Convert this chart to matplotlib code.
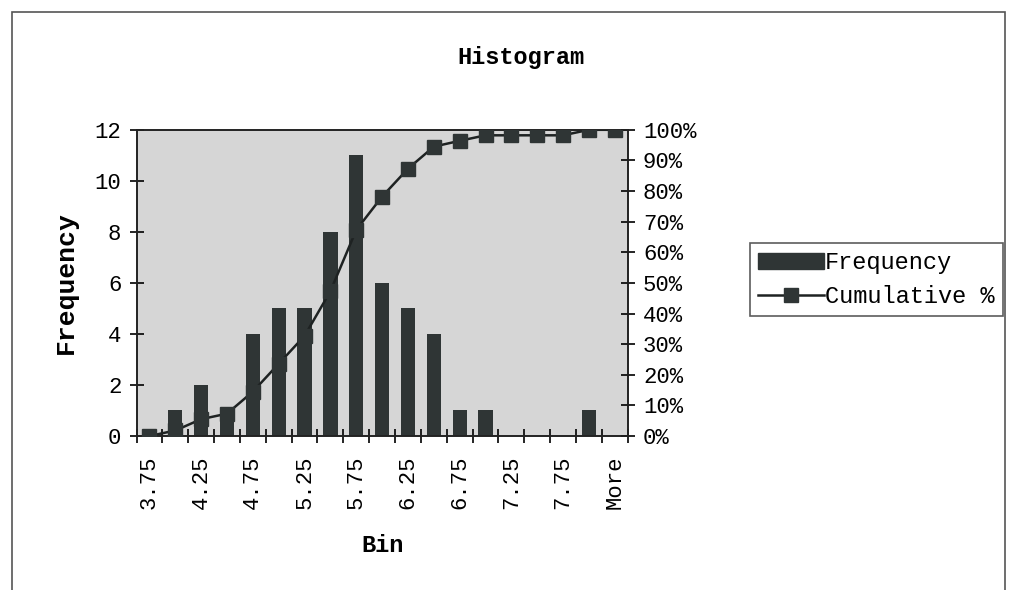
import matplotlib.pyplot as plt
from matplotlib.patches import Rectangle
from matplotlib.lines import Line2D

bins = ["3.75", "4", "4.25", "4.5", "4.75", "5", "5.25", "5.5", "5.75", "6",
        "6.25", "6.5", "6.75", "7", "7.25", "7.5", "7.75", "8", "More"]
frequency = [0, 1, 2, 1, 4, 5, 5, 8, 11, 6, 5, 4, 1, 1, 0, 0, 0, 1, 0]
cumulative = [0, 1.8, 5.5, 7.3, 14.5, 23.6, 32.7, 47.3, 67.3, 78.2, 87.3,
              94.5, 96.4, 98.2, 98.2, 98.2, 98.2, 100, 100]

font = "Liberation Mono"
dark = "#2f3535"

fig = plt.figure(figsize=(10.19, 5.90), dpi=100)
fig.patches.append(Rectangle((12 / 1019, -0.01), 993 / 1019, 1 - 12 / 590 + 0.01,
                             transform=fig.transFigure, fill=False,
                             edgecolor="#555555", linewidth=1.2))

ax = fig.add_axes([0.134, 0.261, 0.482, 0.519])
ax.set_facecolor("#d6d6d6")
x = range(len(bins))
ax.bar(x, frequency, width=0.55, color=dark, zorder=2)
ax.set_xlim(-0.5, len(bins) - 0.5)
ax.set_ylim(0, 12)
ax.set_yticks(range(0, 13, 2))
ax.set_xticks([i - 0.5 for i in range(len(bins) + 1)])
ax.set_xticklabels([])
ax.set_xticks(list(x)[::2], minor=True)
ax.set_xticklabels(bins[::2], minor=True, rotation=90, fontfamily=font, fontsize=16)
ax.tick_params(axis="x", which="major", direction="inout", length=10, width=1.2)
ax.tick_params(axis="x", which="minor", length=0, pad=14)
ax.tick_params(axis="y", direction="inout", length=10, width=1.2, pad=6)
for lab in ax.get_yticklabels():
    lab.set_fontfamily(font)
    lab.set_fontsize(16)
for s in ax.spines.values():
    s.set_linewidth(1.2)
    s.set_color("#222222")
ax.set_xlabel("Bin", fontfamily=font, fontsize=17, fontweight="bold", labelpad=18)
ax.set_ylabel("Frequency", fontfamily=font, fontsize=19, fontweight="bold", labelpad=12)

ax2 = ax.twinx()
ax2.plot(x, cumulative, color="#1e2222", linewidth=1.8, marker="s",
         markersize=10, markerfacecolor=dark, markeredgecolor=dark, zorder=3)
ax2.set_ylim(0, 100)
ax2.set_yticks(range(0, 101, 10))
ax2.set_yticklabels([f"{v}%" for v in range(0, 101, 10)], fontfamily=font, fontsize=16)
ax2.tick_params(axis="y", direction="inout", length=10, width=1.2, pad=6)
for s in ax2.spines.values():
    s.set_linewidth(1.2)
    s.set_color("#222222")

fig.text(0.511, 0.902, "Histogram", ha="center", va="center",
         fontfamily=font, fontsize=17, fontweight="bold")

handles = [Rectangle((0, 0), 1, 1, color=dark),
           Line2D([], [], color="#1e2222", linewidth=1.8, marker="s",
                  markersize=10, markerfacecolor=dark, markeredgecolor=dark)]
leg = fig.legend(handles, ["Frequency", "Cumulative %"], loc="upper left",
                 bbox_to_anchor=(0.724, 0.608), prop={"family": font, "size": 17},
                 frameon=True, fancybox=False, edgecolor="#333333",
                 handlelength=2.8, handletextpad=0.05, borderpad=0.35,
                 labelspacing=0.45)
leg.get_frame().set_linewidth(1.2)

fig.savefig("out.png", dpi=100)
